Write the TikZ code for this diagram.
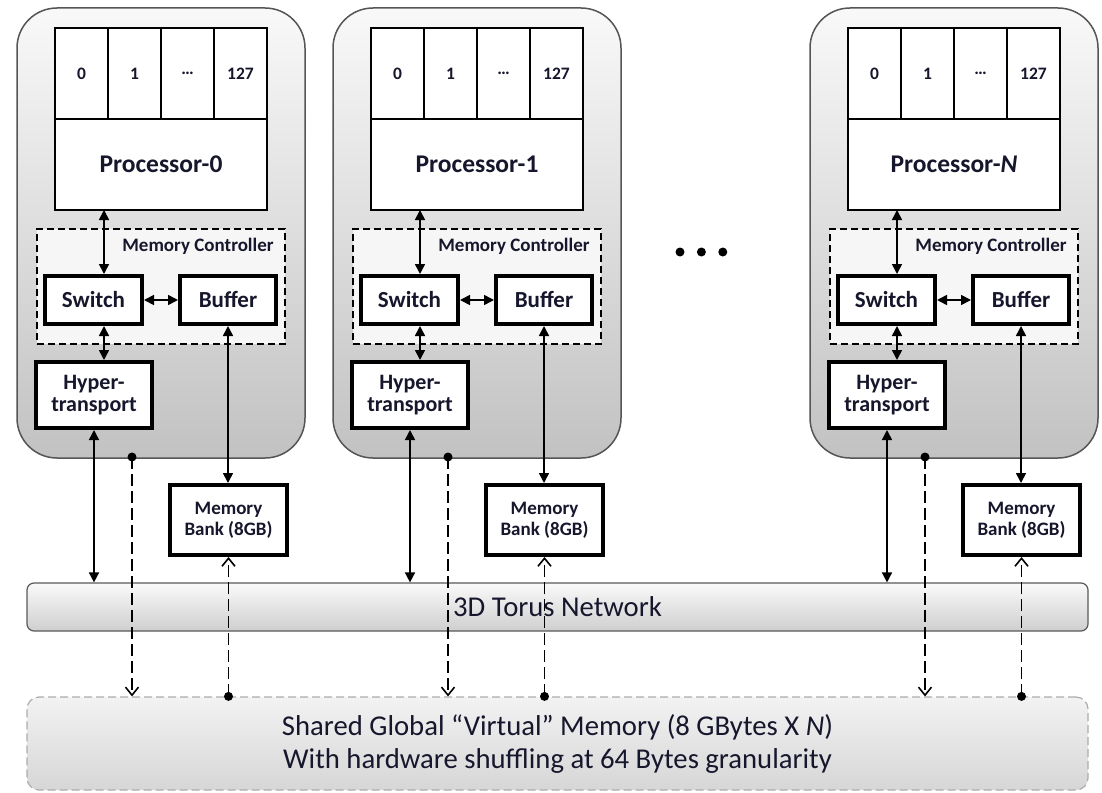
\documentclass[tikz,border=0pt]{standalone}
\usepackage{fontspec}
\setmainfont{Carlito}
\usetikzlibrary{arrows.meta, positioning}
\definecolor{inkdark}{RGB}{22,22,44}
\definecolor{panelrim}{RGB}{85,85,85}

\begin{document}
\begin{tikzpicture}[x=1pt, y=-1pt, text=inkdark,
    font=\bfseries\fontsize{23}{26}\selectfont,
    panel/.style={draw=panelrim, line width=1.5pt, rounded corners=40pt, top color=gray!5, bottom color=gray!48,
      minimum width=288pt, minimum height=450pt},
    cell/.style={draw=black, line width=1.2pt, fill=white, outer sep=0pt, minimum width=53pt, minimum height=91pt,
      font=\bfseries\fontsize{17.5}{20}\selectfont},
    mc/.style={draw=black, line width=2.2pt, dash pattern=on 7pt off 4pt, fill=gray!7, minimum width=248pt, minimum height=115pt},
    blk/.style={draw=black, line width=4pt, fill=white, align=center, inner sep=0pt},
    band/.style={draw=gray!70!black, line width=1.2pt, rounded corners=7pt, minimum width=1061pt, align=center,
      font=\fontsize{28.7}{33}\selectfont},
    dbl/.style={{Triangle[length=10pt,width=10pt]}-{Triangle[length=10pt,width=10pt]}, line width=1.6pt},
    dsh/.style={-{Straight Barb[length=8pt,width=13pt, line width=1.6pt]}, dash pattern=on 12pt off 5pt, line width=1.6pt},
    dot/.style={circle, fill=black, inner sep=0pt, minimum size=9pt}]
  \useasboundingbox (0,0) rectangle (1102,792);

  \node[band, minimum height=48pt, top color=gray!4, bottom color=gray!38] (tor) at (557.5,607) {3D Torus Network};
  \node[band, minimum height=93pt, rounded corners=12pt, draw=gray!65, dash pattern=on 8pt off 4pt,
    top color=gray!10, bottom color=gray!32] (sh) at (557.5,743.5)
    {Shared Global “Virtual” Memory (8 GBytes X \textit{N})\\With hardware shuffling at 64 Bytes granularity};

  \foreach \o/\i/\nm in {0/0/0, 316/1/1, 793/N/\textit{N}} {
    \node[panel] (pan\i) at (161+\o,233) {};
    \node[cell] (c0\i) at (81.5+\o,73.5) {0};
    \node[cell, right=0pt of c0\i] (c1\i) {1};
    \node[cell, right=0pt of c1\i] (c2\i) {…};
    \node[cell, right=0pt of c2\i] (c3\i) {127};
    \node[cell, minimum width=212pt, anchor=north west, font=\bfseries\fontsize{25.5}{28}\selectfont]
      (pr\i) at (c0\i.south west) {Processor-\nm};
    \node[mc] (mc\i) at (161+\o,286.5) {};
    \node[font=\bfseries\fontsize{19}{22}\selectfont] (mcl\i) at (198+\o,246) {Memory Controller};
    \node[blk, minimum width=97pt, minimum height=48pt] (sw\i) at (93.5+\o,300) {Switch};
    \node[blk, minimum width=96pt, minimum height=48pt] (bf\i) at (228+\o,300) {Buffer};
    \node[blk, minimum width=116pt, minimum height=66pt, font=\bfseries\fontsize{22}{22}\selectfont] (ht\i) at (94+\o,395) {Hyper-\\transport};
    \node[blk, minimum width=117pt, minimum height=70pt, font=\bfseries\fontsize{19}{21}\selectfont] (bk\i) at (228.5+\o,520) {Memory\\Bank (8GB)};
    \coordinate (a\i) at (104+\o,0);
    \draw[dbl] (a\i |- pr\i.south) -- (a\i |- sw\i.north);
    \draw[dbl] (a\i |- sw\i.south) -- (a\i |- ht\i.north);
    \draw[dbl] (sw\i) -- (bf\i);
    \draw[dbl] (bf\i.south) -- (bf\i.south |- bk\i.north);
    \draw[dbl] (ht\i.south) -- (ht\i.south |- tor.north);
    \node[dot] (dt\i) at (132+\o,457) {};
    \draw[dsh] (dt\i.center) -- (dt\i.center |- sh.north);
    \node[dot] (bd\i) at (bk\i.south |- sh.north) {};
    \draw[dsh] (bd\i.center) -- (bk\i.south);
  }

  \node[dot] (el1) at (680,252) {};
  \node[dot, right=12pt of el1] (el2) {};
  \node[dot, right=12pt of el2] (el3) {};
\end{tikzpicture}
\end{document}
